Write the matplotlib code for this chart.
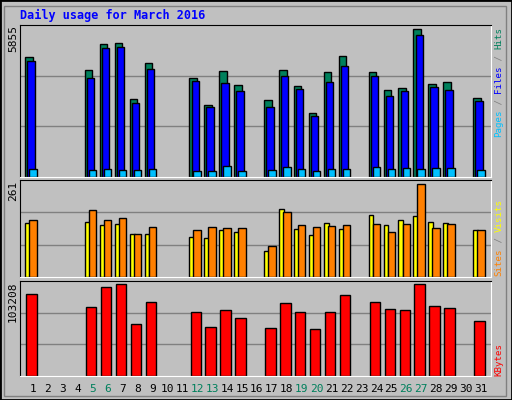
import matplotlib
matplotlib.use("Agg")
import matplotlib.pyplot as plt
from matplotlib.patches import Rectangle

days = [1,5,6,7,8,9,12,13,14,15,17,18,19,20,21,22,24,25,26,27,28,29,31]
hits = [4776,4258,5270,5310,3100,4511,3939,2861,4192,3659,3034,4258,3620,2542,4152,4817,4152,3433,3540,5855,3699,3753,3140]
files = [4618,3939,5097,5150,2941,4272,3819,2781,3739,3420,2781,4019,3500,2422,3779,4418,4019,3220,3420,5616,3580,3460,3021]
pages = [306,266,306,266,266,306,226,226,426,226,266,386,306,226,306,306,386,306,346,306,346,346,266]
visits = [150,153,145,148,119,119,113,108,131,125,74,190,133,116,150,133,173,145,159,170,153,150,131]
sites = [159,187,159,165,119,139,131,139,136,136,88,182,145,139,142,145,148,125,148,261,136,148,131]
kbytes = [91860,78250,99800,103208,58970,82790,72580,55570,74850,65780,54440,81660,72580,53300,72580,90730,82790,75990,74850,103208,79390,77120,62380]
weekend = [5,6,12,13,19,20,26,27]

BG = "#C0C0C0"
W, H = 512, 400
fig = plt.figure(figsize=(5.12, 4.0), dpi=100, facecolor=BG)
fig.patches.append(Rectangle((0, 0), 1, 1, transform=fig.transFigure, fill=False, ec="black", lw=2))
fig.patches.append(Rectangle((4/W, 4/H), 1-10/W, 1-10/H, transform=fig.transFigure, fill=False, ec="#808080", lw=1))

def px(x0, y0, x1, y1):
    return [x0/W, 1-y1/H, (x1-x0)/W, (y1-y0)/H]

XL = (1 + (20-33)/14.93, 1 + (491-33)/14.93)

def mk(rect, ymax):
    ax = fig.add_axes(rect, facecolor=BG)
    ax.set_xlim(*XL); ax.set_ylim(0, ymax)
    ax.set_xticks([]); ax.set_yticks([])
    for g in (ymax/3, 2*ymax/3):
        ax.axhline(g, color="#808080", lw=1, zorder=0)
    for s in ("left", "top"):
        ax.spines[s].set_color("black")
    for s in ("right", "bottom"):
        ax.spines[s].set_color("white")
    return ax

def bars(ax, vals, l, r, c):
    ax.bar([d + (l+r)/2 for d in days], vals, width=r-l, color=c, edgecolor="black", lw=1, zorder=2)

mono = "DejaVu Sans Mono"
a1 = mk(px(20, 25, 491, 177), 6028)
bars(a1, hits, -0.52, -0.02, "#00805C")
bars(a1, files, -0.38, 0.11, "#0000FF")
bars(a1, pages, -0.25, 0.25, "#00C0FF")
a2 = mk(px(20, 180, 491, 277), 271)
bars(a2, visits, -0.52, -0.2, "#FFFF00")
bars(a2, sites, -0.25, 0.25, "#FF8000")
a3 = mk(px(20, 281, 491, 376), 107000)
bars(a3, kbytes, -0.45, 0.25, "#FF0000")

fig.text(20/W, 1-15/H, "Daily usage for March 2016", color="#0000FF", family=mono,
         weight="bold", fontsize=8.5, va="center", ha="left")
for y, t in ((25, "5855"), (181, "261"), (281, "103208")):
    fig.text(13/W, 1-y/H, t, rotation=90, family=mono, fontsize=8, va="top", ha="center")

def rlabel(ybottom, parts):
    y = ybottom
    for t, c in parts:
        fig.text(499/W, 1-y/H, t, rotation=90, family=mono, fontsize=6.6, color=c, va="bottom", ha="center")
        y -= len(t)*5.5
rlabel(137, [("Pages", "#00C0FF"), (" / ", "#808080"), ("Files", "#0000FF"), (" / ", "#808080"), ("Hits", "#00805C")])
rlabel(276, [("Sites", "#FF8000"), (" / ", "#808080"), ("Visits", "#FFFF00")])
rlabel(376, [("KBytes", "#FF0000")])

for d in range(1, 32):
    fig.text((33 + 14.93*(d-1))/W, 1-389/H, str(d), family=mono, fontsize=8,
             color="#00805C" if d in weekend else "black", ha="center", va="center")

fig.savefig("out.png", dpi=100, facecolor=BG)
